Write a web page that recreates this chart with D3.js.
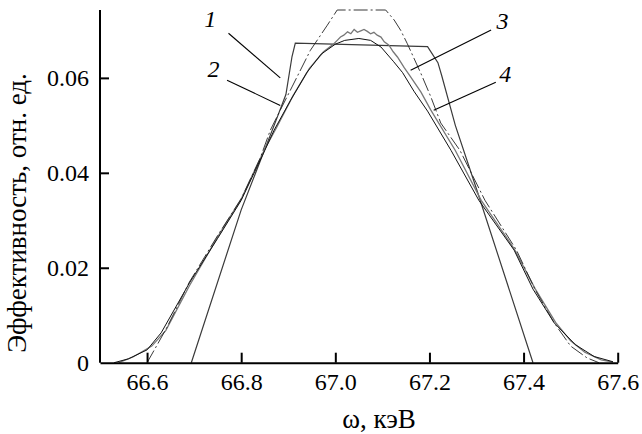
<!DOCTYPE html>
<html><head><meta charset="utf-8">
<script src="https://cdn.jsdelivr.net/npm/d3@7"></script>
<style>
html,body{margin:0;padding:0;background:#fff;}
text{font-family:"Liberation Serif","Times New Roman",serif;fill:#000;}
</style></head><body>
<script>
// ---- data (ω in keV, efficiency in rel. units) ----
const xTicks = [66.6, 66.8, 67.0, 67.2, 67.4, 67.6];
const yTicks = [0, 0.02, 0.04, 0.06];
const xDomain = [66.5, 67.6];
const yDomain = [0, 0.0743];

// curve 1: trapezoid
const curve1 = [[66.694,0],[66.80,0.0322],[66.87,0.050],[66.895,0.0565],[66.908,0.0645],[66.915,0.0673],
  [67.196,0.0666],[67.218,0.0632],[67.226,0.0605],[67.255,0.0500],[67.30,0.0366],[67.42,0]];
// smooth bell
const curveSmooth = [[66.53,0],[66.56,0.0008],[66.60,0.0027],[66.63,0.0063],[66.69,0.0168],[66.75,0.0262],
  [66.80,0.0342],[66.85,0.0447],[66.87,0.049],[66.905,0.0553],[66.94,0.0612],[66.97,0.065],[67.0,0.0671],
  [67.02,0.0679],[67.05,0.0683],[67.075,0.0679],[67.097,0.0665],[67.124,0.0634],[67.143,0.0611],
  [67.167,0.0572],[67.196,0.0530],[67.246,0.0447],[67.305,0.0342],[67.38,0.0237],[67.42,0.0155],
  [67.465,0.0084],[67.51,0.0038],[67.55,0.0013],[67.59,0.0002]];
// noisy bell
const curveNoisy = [[66.54,0],[66.57,0.0012],[66.61,0.0035],[66.64,0.0068],[66.69,0.0162],[66.75,0.0265],
  [66.80,0.0345],[66.85,0.0450],[66.875,0.0495],[66.91,0.0562],[66.945,0.0620],[66.975,0.0655],
  [66.997,0.0672],[67.004,0.0679],[67.011,0.0686],[67.018,0.0690],[67.026,0.0697],[67.033,0.0693],
  [67.040,0.0702],[67.047,0.0696],[67.054,0.0699],[67.061,0.0702],[67.068,0.0698],[67.075,0.0693],
  [67.082,0.0696],[67.089,0.0690],[67.097,0.0686],[67.104,0.0676],[67.114,0.0669],[67.123,0.0655],
  [67.132,0.0644],[67.146,0.0622],[67.160,0.0602],[67.182,0.0570],[67.203,0.0532],[67.255,0.0447],
  [67.31,0.0342],[67.38,0.0240],[67.425,0.0155],[67.468,0.0085],[67.50,0.0046],[67.53,0.0022],
  [67.565,0.0006],[67.59,0.0001]];
// dash-dot bell (flat top)
const curveDash = [[66.60,0],[66.62,0.0035],[66.642,0.0074],[66.69,0.0170],[66.75,0.0268],[66.80,0.0345],
  [66.84,0.0430],[66.862,0.049],[66.883,0.0532],[66.908,0.0581],[66.947,0.0658],[66.983,0.0711],
  [67.004,0.0743],[67.107,0.0743],[67.125,0.0722],[67.139,0.0700],[67.153,0.0672],[67.182,0.0609],
  [67.203,0.0560],[67.224,0.0505],[67.265,0.0447],[67.318,0.0342],[67.385,0.0237],[67.425,0.0153],
  [67.465,0.0084],[67.50,0.0035],[67.535,0.0010],[67.56,0]];

// curve labels (data units)
const labelText = ["1","2","3","4"];
const labelPos = [[66.734,0.0725],[66.741,0.0620],[67.355,0.0720],[67.361,0.0610]];
const leaderFrom = [[66.773,0.0694],[66.770,0.0595],[67.331,0.0701],[67.341,0.0591]];
const leaderTo = [[66.883,0.0600],[66.883,0.0542],[67.160,0.0616],[67.209,0.0532]];

// ---- drawing ----
const W = 642, H = 434;
const margin = {left:100, right:24.3, top:10, bottom:71.3};
const svg = d3.select("body").append("svg").attr("width",W).attr("height",H);
const x = d3.scaleLinear().domain(xDomain).range([margin.left, W-margin.right]);
const y = d3.scaleLinear().domain(yDomain).range([H-margin.bottom, margin.top]);

const line = d3.line().x(d=>x(d[0])).y(d=>y(d[1]));
svg.append("path").datum(curve1).attr("d",line).attr("fill","none").attr("stroke","#3a3a3a").attr("stroke-width",1.2);
svg.append("path").datum(curveNoisy).attr("d",line).attr("fill","none").attr("stroke","#777").attr("stroke-width",1.3);
svg.append("path").datum(curveSmooth).attr("d",line).attr("fill","none").attr("stroke","#111").attr("stroke-width",1);
svg.append("path").datum(curveDash).attr("d",line).attr("fill","none").attr("stroke","#222").attr("stroke-width",0.9)
  .attr("stroke-dasharray","14,3,2,3");

// axes
const xAxis = d3.axisBottom(x).tickValues(xTicks).tickFormat(d3.format(".1f")).tickSizeInner(-10).tickSizeOuter(0).tickPadding(10);
const gx = svg.append("g").attr("transform",`translate(0,${y(0)})`).call(xAxis);
const yAxis = d3.axisLeft(y).tickValues(yTicks).tickFormat(d=>d===0?"0":d3.format(".2f")(d)).tickSizeInner(-9).tickSizeOuter(0).tickPadding(11);
const gy = svg.append("g").attr("transform",`translate(${x(xDomain[0])},0)`).call(yAxis);
[gx,gy].forEach(g=>{
  g.select(".domain").attr("stroke","#000").attr("stroke-width",2);
  g.selectAll(".tick line").attr("stroke","#000").attr("stroke-width",2);
  g.selectAll(".tick text").style("font-family","'Liberation Serif','Times New Roman',serif").style("font-size","24px").attr("fill","#000");
});
gy.select(".domain").attr("d",`M0,${y(0)}V${y(yDomain[1])}`);
gy.selectAll(".tick").filter(d=>d===0).select("line").remove();

// axis titles
svg.append("text").attr("x",379).attr("y",428).attr("text-anchor","middle")
  .style("font-size","27px").text("ω, кэВ");
svg.append("text").attr("transform",`translate(26,213) rotate(-90)`).attr("text-anchor","middle")
  .style("font-size","27px").text("Эффективность, отн. ед.");

// labels
labelText.forEach((t,i)=>{
  svg.append("line").attr("x1",x(leaderFrom[i][0])).attr("y1",y(leaderFrom[i][1]))
    .attr("x2",x(leaderTo[i][0])).attr("y2",y(leaderTo[i][1])).attr("stroke","#000").attr("stroke-width",1.1);
  svg.append("text").attr("x",x(labelPos[i][0])).attr("y",y(labelPos[i][1])).attr("text-anchor","middle")
    .attr("dy","0.35em").style("font-size","24px").style("font-style","italic").text(t);
});
</script></body></html>
